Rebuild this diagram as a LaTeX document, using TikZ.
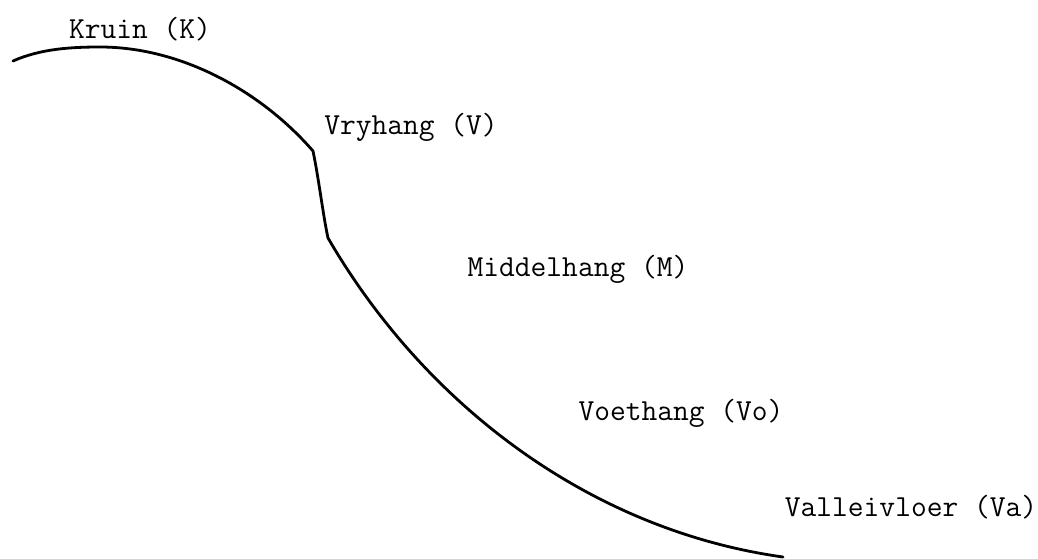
\documentclass[tikz,border=0pt]{standalone}
\begin{document}
\begin{tikzpicture}[x=1pt,y=-1pt,
  lbl/.style={font=\fontsize{30.6}{35}\selectfont\ttfamily, inner sep=0pt, anchor=center},
  prof/.style={line width=2.8pt, line cap=round, line join=round}]
\useasboundingbox (0,0) rectangle (1038,559);
\node[lbl] (K)  at (140,29)  {Kruin (K)};
\node[lbl] (V)  at (411,127) {Vryhang (V)};
\node[lbl] (M)  at (578,269) {Middelhang (M)};
\node[lbl] (Vo) at (681,413) {Voethang (Vo)};
\node[lbl] (Va) at (911,507) {Valleivloer (Va)};
\coordinate (p0) at (13,61);
\coordinate (p1) at (100,47);
\coordinate (p2) at (313,151);
\coordinate (p3) at (328,238);
\coordinate (p4) at (783,557);
\draw[prof] (p0) .. controls (40,49) and (70,47) .. (p1)
  .. controls (180,47) and (260,90) .. (p2)
  .. controls (319,180) and (323,215) .. (p3)
  .. controls (425,405) and (590,530) .. (p4);
\end{tikzpicture}
\end{document}
